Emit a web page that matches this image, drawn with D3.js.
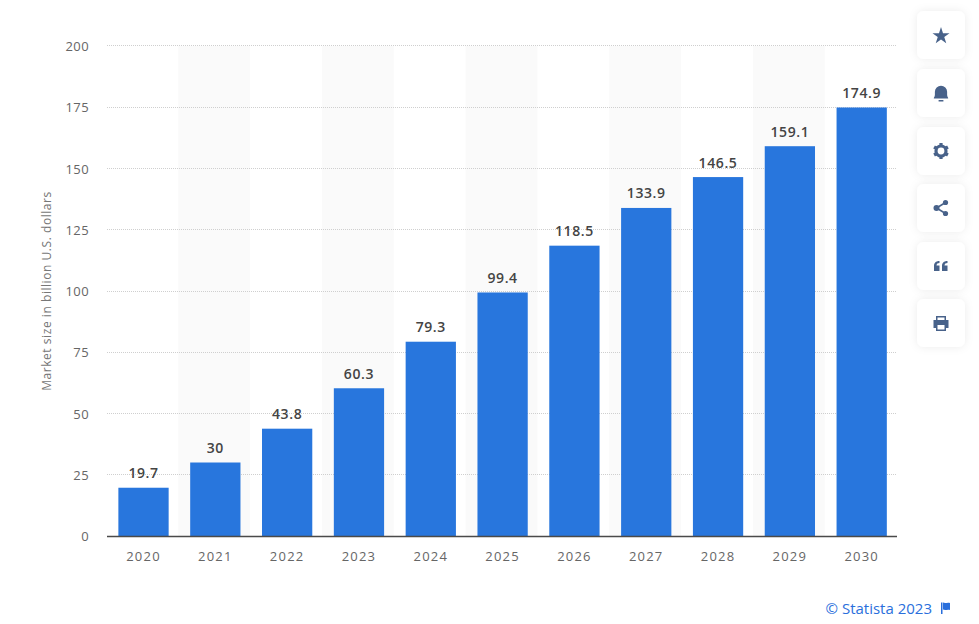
<!DOCTYPE html>
<html>
<head>
<meta charset="utf-8">
<script src="https://cdn.jsdelivr.net/npm/d3@7"></script>
<style>
html, body { margin: 0; padding: 0; background: #fff; overflow: hidden; }
text { font-family: "Open Sans", sans-serif; }
.tick-label { font-size: 13px; fill: #666; }
.x-label { letter-spacing: 1.2px; }
.y-label { letter-spacing: 0.4px; }
.bar-label { font-size: 14px; font-weight: 600; fill: #444; text-anchor: middle; letter-spacing: 0.6px; }
</style>
</head>
<body>
<div id="content"></div>
<script>
const years = ['2020', '2021', '2022', '2023', '2024', '2025', '2026', '2027', '2028', '2029', '2030'];
const marketSize = [19.7, 30, 43.8, 60.3, 79.3, 99.4, 118.5, 133.9, 146.5, 159.1, 174.9];
const yTicks = [0, 25, 50, 75, 100, 125, 150, 175, 200];

var width = 979;
var height = 624;

var svg = d3.select('#content')
    .append('svg')
    .attr('width', width)
    .attr('height', height)
    .style('display', 'block');

var defs = svg.append('defs');
var shadow = defs.append('filter')
    .attr('id', 'card-shadow')
    .attr('x', '-30%').attr('y', '-30%')
    .attr('width', '160%').attr('height', '160%');
shadow.append('feDropShadow')
    .attr('dx', 0).attr('dy', 0)
    .attr('stdDeviation', 4)
    .attr('flood-color', '#000')
    .attr('flood-opacity', 0.08);

// bars sit a touch right of the stripes in the original
var xScale = d3.scaleBand()
    .domain(years)
    .range([107.6, 897.6])
    .paddingInner(0.3)
    .paddingOuter(0.15);
var stepScale = d3.scaleBand()
    .domain(years)
    .range([106.5, 896.5]);
var yScale = d3.scaleLinear()
    .domain([0, 200])
    .range([536, 46]);

// alternate stripes
svg.selectAll('.stripe')
    .data(years.filter((y, i) => i % 2 == 1))
    .enter()
    .append('rect')
    .attr('class', 'stripe')
    .attr('x', d => stepScale(d))
    .attr('y', yScale(200))
    .attr('width', stepScale.bandwidth())
    .attr('height', yScale(0) - yScale(200))
    .attr('fill', '#fafafa');

// grid, the top line sits one pixel above the stripes
function gridY(d) {
    return Math.floor(yScale(d)) + 0.5 - (d == 200 ? 1 : 0);
}
svg.selectAll('.grid')
    .data(yTicks.filter(t => t > 0))
    .enter()
    .append('line')
    .attr('class', 'grid')
    .attr('x1', 107)
    .attr('x2', 897)
    .attr('y1', gridY)
    .attr('y2', gridY)
    .attr('stroke', '#cfcfcf')
    .attr('stroke-dasharray', '1 1');

svg.selectAll('.y-label')
    .data(yTicks)
    .enter()
    .append('text')
    .attr('class', 'tick-label y-label')
    .attr('x', 89)
    .attr('y', d => yScale(d) + 5)
    .attr('text-anchor', 'end')
    .text(d => d);

svg.selectAll('.bar')
    .data(marketSize)
    .enter()
    .append('rect')
    .attr('class', 'bar')
    .attr('x', (d, i) => xScale(years[i]))
    .attr('y', d => yScale(d))
    .attr('width', xScale.bandwidth())
    .attr('height', d => yScale(0) - yScale(d))
    .attr('fill', '#2876dd');

svg.selectAll('.bar-label')
    .data(marketSize)
    .enter()
    .append('text')
    .attr('class', 'bar-label')
    .attr('x', (d, i) => xScale(years[i]) + xScale.bandwidth() / 2)
    .attr('y', d => yScale(d) - 9.5)
    .text(d => d);

svg.selectAll('.x-label')
    .data(years)
    .enter()
    .append('text')
    .attr('class', 'tick-label x-label')
    .attr('x', d => xScale(d) + xScale.bandwidth() / 2)
    .attr('y', 561)
    .attr('text-anchor', 'middle')
    .text(d => d);

// baseline
svg.append('line')
    .attr('x1', 107)
    .attr('x2', 897)
    .attr('y1', 536.5)
    .attr('y2', 536.5)
    .attr('stroke', '#4a4a4a')
    .attr('stroke-width', 1.4);

svg.append('text')
    .attr('transform', 'translate(51, 291) rotate(-90)')
    .attr('text-anchor', 'middle')
    .attr('font-size', 12)
    .attr('letter-spacing', 0.55)
    .attr('fill', '#777')
    .text('Market size in billion U.S. dollars');

svg.append('text')
    .attr('x', 932)
    .attr('y', 614)
    .attr('text-anchor', 'end')
    .attr('font-size', 15)
    .attr('fill', '#2a6fdc')
    .text('\u00a9 Statista 2023');

// little flag next to the source
svg.append('path')
    .attr('d', 'M941 602.500h1.500v11.500h-1.500z M943 602.500c2.500 1.200 4-.4 7 .4v7c-3-.8-4.500.8-7-.4z')
    .attr('fill', '#2a6fdc');

// side buttons
const ICON = '#48628a';
const buttonTops = [11, 69, 127, 184, 242, 299];
var cards = svg.selectAll('.card')
    .data(buttonTops)
    .enter()
    .append('g')
    .attr('class', 'card')
    .attr('transform', d => `translate(941, ${d + 24})`);
cards.append('rect')
    .attr('x', -24)
    .attr('y', -24)
    .attr('width', 48)
    .attr('height', 48)
    .attr('rx', 7)
    .attr('fill', '#fff')
    .attr('filter', 'url(#card-shadow)');

var star = d3.select(cards.nodes()[0]);
star.append('path')
    .attr('d', d3.symbol(d3.symbolStar, 90)())
    .attr('transform', 'translate(0, 1)')
    .attr('fill', ICON);

var bell = d3.select(cards.nodes()[1]);
bell.append('path')
    .attr('d', 'M-6 4.500c0-1 .9-1.200.9-3v-2.500a5.100 5.100 0 0 1 10.200 0v2.500c0 1.800.9 2 .9 3z M-2 5.800h4v1.200h-4z')
    .attr('transform', 'scale(1.2)')
    .attr('fill', ICON);

var gear = d3.select(cards.nodes()[2]);
gear.append('circle')
    .attr('r', 5)
    .attr('fill', 'none')
    .attr('stroke', ICON)
    .attr('stroke-width', 3.2);
gear.selectAll('.tooth')
    .data(d3.range(0, 360, 60))
    .enter()
    .append('rect')
    .attr('class', 'tooth')
    .attr('x', -1.6)
    .attr('y', -8)
    .attr('width', 3.2)
    .attr('height', 2.5)
    .attr('transform', d => `rotate(${d})`)
    .attr('fill', ICON);

var share = d3.select(cards.nodes()[3]);
share.append('path')
    .attr('d', 'M4.500 -5.500L-4.500 0L4.500 5.500')
    .attr('fill', 'none')
    .attr('stroke', ICON)
    .attr('stroke-width', 1.6);
share.selectAll('.node')
    .data([[4.5, -5.5, 2.6], [-4.5, 0, 3], [4.5, 5.5, 2.6]])
    .enter()
    .append('circle')
    .attr('class', 'node')
    .attr('cx', d => d[0])
    .attr('cy', d => d[1])
    .attr('r', d => d[2])
    .attr('fill', ICON);

var quote = d3.select(cards.nodes()[4]);
quote.append('path')
    .attr('d', 'M-7 5v-5c0-2.800 1.500-5 5.500-5v2c-1.800 0-3 .8-3 2.500h3v5.500z M1 5v-5c0-2.800 1.500-5 5.500-5v2c-1.800 0-3 .8-3 2.500h3v5.500z')
    .attr('fill', ICON);

var printer = d3.select(cards.nodes()[5]);
printer.append('path')
    .attr('fill-rule', 'evenodd')
    .attr('d', 'M-5 -7h10v4h2.500v8h-2.500v3h-10v-3h-2.500v-8h2.500z M-3.500 -5.500v2.500h7v-2.500z M-3.500 2v4.500h7v-4.500z')
    .attr('fill', ICON);
</script>
</body>
</html>
